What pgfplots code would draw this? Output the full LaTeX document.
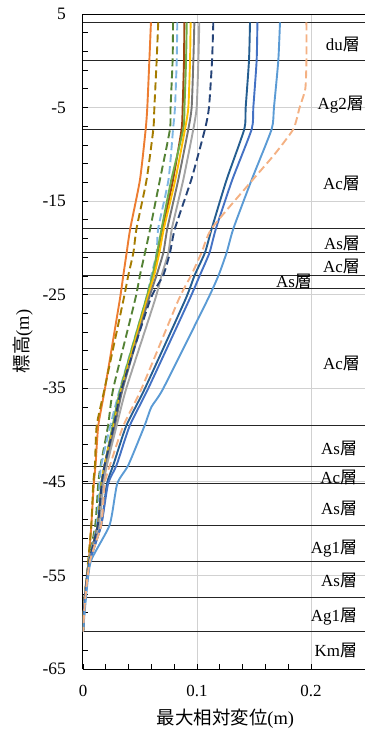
\documentclass[border=0pt]{standalone}
\usepackage{fontspec}
\setmainfont{Liberation Serif}
\newfontfamily\cjk{Noto Sans CJK JP}
\usepackage{pgfplots}
\pgfplotsset{compat=1.18}
\definecolor{cOrange}{HTML}{ED7D31}
\definecolor{cOlive}{HTML}{A67C00}
\definecolor{cDGreen}{HTML}{548235}
\definecolor{cLBlueD}{HTML}{7EB6E3}
\definecolor{cBrown}{HTML}{9E480E}
\definecolor{cGreen}{HTML}{70AD47}
\definecolor{cYellow}{HTML}{FFC000}
\definecolor{cDGray}{HTML}{767676}
\definecolor{cLGray}{HTML}{A5A5A5}
\definecolor{cNavy}{HTML}{264478}
\definecolor{cDBlue}{HTML}{255E91}
\definecolor{cBlue}{HTML}{4472C4}
\definecolor{cLBlue}{HTML}{5B9BD5}
\definecolor{cPeach}{HTML}{F4B183}
\begin{document}
\begin{tikzpicture}[
  bnd/.style={black!85, line width=0.8bp},
  crv/.style={line width=1.9bp, smooth, tension=0.35},
  dsh/.style={line width=1.9bp, smooth, tension=0.35, dash pattern=on 8bp off 4bp},
  lbl/.style={anchor=east, inner sep=0pt, font=\fontsize{17}{18}\selectfont},
]
\begin{axis}[
  scale only axis, width=285bp, height=655bp,
  xmin=0, xmax=0.25, ymin=-65, ymax=5,
  axis y line*=left,
  axis line style={black, line width=1bp},
  xtick={0,0.1,0.2}, ytick={-65,-55,...,5},
  minor x tick num=4, minor y tick num=4,
  xtick pos=left, ytick pos=left,
  tick align=inside,
  major tick length=5bp, minor tick length=5bp,
  tick style={black, line width=0.8bp},
  grid=major, major grid style={draw=black!18, line width=1bp},
  /pgf/number format/assume math mode=true,
  xticklabel style={font=\fontsize{17}{18}\selectfont, inner sep=0pt, yshift=-16bp},
  yticklabel style={font=\fontsize{17.5}{18}\selectfont, inner sep=0pt, xshift=-17bp},
  xlabel={{\cjk 最大相対変位}(m)},
  ylabel={{\cjk 標高}(m)},
  label style={font=\fontsize{18.5}{20}\selectfont},
  xlabel style={at={(rel axis cs:0.5,0)}, anchor=center, yshift=-50bp},
  ylabel style={at={(rel axis cs:0,0.5)}, anchor=center, yshift=60bp},
]
% layer boundaries
\addplot[bnd] coordinates {(0,4.1) (0.25,4.1)};
\addplot[bnd] coordinates {(0,0) (0.25,0)};
\addplot[bnd] coordinates {(0,-7.3) (0.25,-7.3)};
\addplot[bnd] coordinates {(0,-17.9) (0.25,-17.9)};
\addplot[bnd] coordinates {(0,-20.5) (0.25,-20.5)};
\addplot[bnd] coordinates {(0,-22.9) (0.25,-22.9)};
\addplot[bnd] coordinates {(0,-24.3) (0.25,-24.3)};
\addplot[bnd] coordinates {(0,-39.0) (0.25,-39.0)};
\addplot[bnd] coordinates {(0,-43.3) (0.25,-43.3)};
\addplot[bnd] coordinates {(0,-45.2) (0.25,-45.2)};
\addplot[bnd] coordinates {(0,-49.6) (0.25,-49.6)};
\addplot[bnd] coordinates {(0,-53.5) (0.25,-53.5)};
\addplot[bnd] coordinates {(0,-57.4) (0.25,-57.4)};
\addplot[bnd] coordinates {(0,-61.0) (0.25,-61.0)};
% curves
\addplot[crv, cOrange] coordinates {(0.0596,4.1) (0.0582,0) (0.0564,-5) (0.055,-7.3) (0.050,-12.7) (0.0415,-17.9) (0.0383,-20.5) (0.0354,-22.9) (0.0322,-25.6) (0.0193,-35) (0.0134,-39) (0.011,-43.2) (0.0095,-45.2) (0.0073,-49.6) (0.005,-53.5) (0.0015,-57.4) (0,-61)};
\addplot[dsh, cOlive] coordinates {(0.066,4.1) (0.0646,0) (0.0626,-5) (0.0617,-7.3) (0.0558,-12.7) (0.047,-17.9) (0.0442,-20.5) (0.0398,-22.9) (0.0354,-25.6) (0.019,-35) (0.012,-39) (0.0105,-43.2) (0.009,-45.2) (0.0073,-49.6) (0.0045,-53.5) (0.0015,-57.4) (0,-61)};
\addplot[dsh, cDGreen] coordinates {(0.079,4.1) (0.0786,0) (0.0768,-5) (0.0763,-7.3) (0.0675,-12.7) (0.059,-17.9) (0.0544,-20.5) (0.050,-22.9) (0.0456,-25.6) (0.0266,-35) (0.022,-39) (0.0155,-43.2) (0.0134,-45.2) (0.0108,-49.6) (0.005,-53.5) (0.0015,-57.4) (0,-61)};
\addplot[dsh, cLBlueD] coordinates {(0.0827,4.1) (0.0822,0) (0.0807,-5) (0.079,-7.3) (0.075,-12.7) (0.066,-17.9) (0.0646,-20.5) (0.060,-22.9) (0.055,-25.6) (0.0325,-35) (0.024,-39) (0.016,-43.2) (0.0145,-45.2) (0.012,-49.6) (0.005,-53.5) (0.0015,-57.4) (0,-61)};
\addplot[crv, cBrown] coordinates {(0.0889,4.1) (0.0886,0) (0.0874,-5) (0.0865,-7.3) (0.079,-12.7) (0.070,-17.9) (0.066,-20.5) (0.0617,-22.9) (0.0555,-25.6) (0.034,-35) (0.0266,-39) (0.019,-43.2) (0.0164,-45.2) (0.013,-49.6) (0.0055,-53.5) (0.0015,-57.4) (0,-61)};
\addplot[crv, cGreen] coordinates {(0.091,4.1) (0.0904,0) (0.089,-5) (0.088,-7.3) (0.0775,-12.7) (0.069,-17.9) (0.065,-20.5) (0.061,-22.9) (0.055,-25.6) (0.033,-35) (0.026,-39) (0.019,-43.2) (0.016,-45.2) (0.013,-49.6) (0.0055,-53.5) (0.0015,-57.4) (0,-61)};
\addplot[crv, cYellow] coordinates {(0.0944,4.1) (0.0939,0) (0.0924,-5) (0.0895,-7.3) (0.081,-12.7) (0.071,-17.9) (0.067,-20.5) (0.0625,-22.9) (0.056,-25.6) (0.034,-35) (0.027,-39) (0.019,-43.2) (0.0164,-45.2) (0.013,-49.6) (0.0055,-53.5) (0.0015,-57.4) (0,-61)};
\addplot[crv, cDGray] coordinates {(0.0977,4.1) (0.0968,0) (0.0953,-5) (0.0924,-7.3) (0.0836,-12.7) (0.074,-17.9) (0.0705,-20.5) (0.0646,-22.9) (0.0573,-25.6) (0.035,-35) (0.028,-39) (0.020,-43.2) (0.017,-45.2) (0.013,-49.6) (0.0055,-53.5) (0.0015,-57.4) (0,-61)};
\addplot[crv, cLGray] coordinates {(0.102,4.1) (0.1012,0) (0.0997,-5) (0.0968,-7.3) (0.088,-12.7) (0.078,-17.9) (0.0749,-20.5) (0.069,-22.9) (0.063,-25.6) (0.038,-35) (0.0295,-39) (0.021,-43.2) (0.018,-45.2) (0.014,-49.6) (0.006,-53.5) (0.0015,-57.4) (0,-61)};
\addplot[dsh, cNavy] coordinates {(0.1143,4.1) (0.1132,0) (0.1105,-5) (0.107,-7.3) (0.095,-12.7) (0.0807,-17.9) (0.0763,-20.5) (0.0705,-22.9) (0.0588,-25.6) (0.034,-35) (0.027,-39) (0.019,-43.2) (0.0164,-45.2) (0.013,-49.6) (0.0055,-53.5) (0.0015,-57.4) (0,-61)};
\addplot[crv, cDBlue] coordinates {(0.1465,4.1) (0.1456,0) (0.1427,-5) (0.1415,-7.3) (0.126,-12.7) (0.113,-17.9) (0.107,-20.5) (0.098,-22.9) (0.0895,-25.6) (0.0544,-35) (0.038,-39) (0.0266,-43.2) (0.021,-45.2) (0.016,-49.6) (0.006,-53.5) (0.002,-57.4) (0,-61)};
\addplot[crv, cBlue] coordinates {(0.153,4.1) (0.1523,0) (0.1494,-5) (0.148,-7.3) (0.131,-12.7) (0.1167,-17.9) (0.111,-20.5) (0.1026,-22.9) (0.093,-25.6) (0.0573,-35) (0.041,-39) (0.0295,-43.2) (0.022,-45.2) (0.016,-49.6) (0.006,-53.5) (0.002,-57.4) (0,-61)};
\addplot[crv, cLBlue] coordinates {(0.1728,4.1) (0.1713,0) (0.1675,-5) (0.1655,-7.3) (0.148,-12.7) (0.132,-17.9) (0.126,-20.5) (0.119,-22.9) (0.109,-25.6) (0.0705,-35) (0.060,-37) (0.054,-39) (0.0398,-43.2) (0.030,-45.2) (0.0234,-49.6) (0.0068,-53.5) (0.0026,-57.4) (0,-61)};
\addplot[dsh, cPeach] coordinates {(0.196,4.1) (0.196,0) (0.195,-3) (0.190,-5) (0.1845,-7.3) (0.168,-10) (0.149,-12.7) (0.113,-17.9) (0.104,-20.5) (0.095,-22.9) (0.0836,-25.6) (0.0515,-35) (0.0354,-39) (0.0237,-43.2) (0.019,-45.2) (0.016,-49.6) (0.006,-53.5) (0.002,-57.4) (0,-61)};
% layer names
\node[lbl] at (axis cs:0.243,1.7) {du{\cjk 層}};
\node[lbl] at (axis cs:0.2465,-4.7) {Ag2{\cjk 層}};
\node[lbl] at (axis cs:0.243,-13.1) {Ac{\cjk 層}};
\node[lbl] at (axis cs:0.243,-19.5) {As{\cjk 層}};
\node[lbl] at (axis cs:0.243,-22.0) {Ac{\cjk 層}};
\node[lbl] at (axis cs:0.2009,-23.6) {As{\cjk 層}};
\node[lbl] at (axis cs:0.243,-32.3) {Ac{\cjk 層}};
\node[lbl] at (axis cs:0.2405,-41.4) {As{\cjk 層}};
\node[lbl] at (axis cs:0.2405,-44.5) {Ac{\cjk 層}};
\node[lbl] at (axis cs:0.2405,-47.8) {As{\cjk 層}};
\node[lbl] at (axis cs:0.2405,-52.1) {Ag1{\cjk 層}};
\node[lbl] at (axis cs:0.2405,-55.5) {As{\cjk 層}};
\node[lbl] at (axis cs:0.2405,-59.4) {Ag1{\cjk 層}};
\node[lbl] at (axis cs:0.2405,-63.0) {Km{\cjk 層}};
\end{axis}
\pgfresetboundingbox
\path[use as bounding box] (-83bp,-65bp) rectangle (282bp,669bp);
\end{tikzpicture}
\end{document}
